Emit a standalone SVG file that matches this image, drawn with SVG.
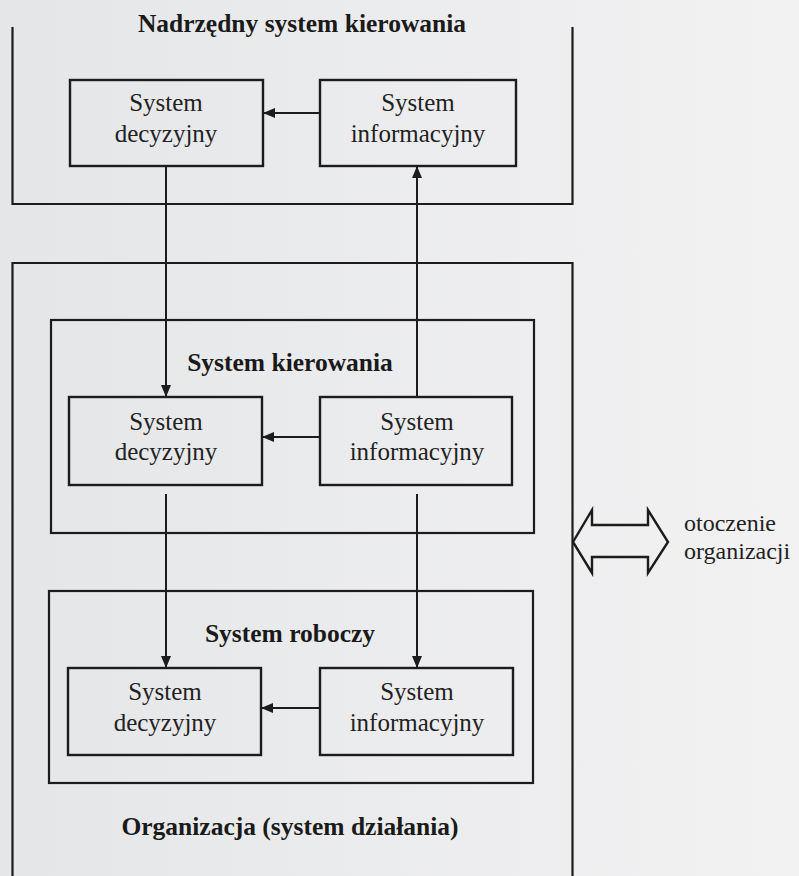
<svg xmlns="http://www.w3.org/2000/svg" width="799" height="876" viewBox="0 0 799 876">
  <defs>
    <linearGradient id="paper" x1="0" y1="0" x2="1" y2="0">
      <stop offset="0" stop-color="#e5e6e8"/>
      <stop offset="1" stop-color="#f2f2f3"/>
    </linearGradient>
    <marker id="arrow" viewBox="0 0 12 10" refX="12" refY="5" markerWidth="12" markerHeight="10" markerUnits="userSpaceOnUse" orient="auto">
      <path d="M0,0 L12,5 L0,10 Z" fill="#1c1c1c"/>
    </marker>
    <style>
      .frame { fill: none; stroke: #1c1c1c; stroke-width: 2.2; }
      .box { fill: none; stroke: #1c1c1c; stroke-width: 2.4; }
      .link { fill: none; stroke: #1c1c1c; stroke-width: 2; marker-end: url(#arrow); }
      .title { font-family: "Liberation Serif", "Times New Roman", serif; font-weight: bold; font-size: 25.5px; fill: #1a1a1a; text-anchor: middle; }
      .label { font-family: "Liberation Serif", "Times New Roman", serif; font-size: 25px; fill: #222; text-anchor: middle; }
      .side { font-family: "Liberation Serif", "Times New Roman", serif; font-size: 24px; fill: #222; }
    </style>
  </defs>

  <rect x="0" y="0" width="799" height="876" fill="url(#paper)"/>

  <!-- enclosing system frames -->
  <g id="nadrzedny-system">
    <path class="frame" d="M12.5,27 V204 H572.5 V27"/>
    <text class="title" x="302" y="32">Nadrzędny system kierowania</text>
  </g>
  <g id="organizacja">
    <path class="frame" d="M12.5,876 V263 H572.5 V876"/>
    <text class="title" x="290" y="835">Organizacja (system działania)</text>
  </g>
  <g id="system-kierowania">
    <rect class="frame" x="51" y="320" width="483" height="213"/>
    <text class="title" x="290" y="371">System kierowania</text>
  </g>
  <g id="system-roboczy">
    <rect class="frame" x="49" y="591" width="484" height="192"/>
    <text class="title" x="290" y="642">System roboczy</text>
  </g>

  <!-- upper level -->
  <g id="top-decyzyjny">
    <rect class="box" x="70" y="80" width="193" height="86"/>
    <text class="label" x="166" y="111">System</text>
    <text class="label" x="166" y="142">decyzyjny</text>
  </g>
  <g id="top-informacyjny">
    <rect class="box" x="320" y="80" width="196" height="86"/>
    <text class="label" x="418" y="111">System</text>
    <text class="label" x="418" y="142">informacyjny</text>
  </g>

  <!-- management level -->
  <g id="mid-decyzyjny">
    <rect class="box" x="69" y="397" width="193" height="88"/>
    <text class="label" x="166" y="430">System</text>
    <text class="label" x="166" y="460">decyzyjny</text>
  </g>
  <g id="mid-informacyjny">
    <rect class="box" x="320" y="397" width="192" height="88"/>
    <text class="label" x="417" y="430">System</text>
    <text class="label" x="417" y="460">informacyjny</text>
  </g>

  <!-- operating level -->
  <g id="bot-decyzyjny">
    <rect class="box" x="68" y="668" width="193" height="87"/>
    <text class="label" x="165" y="700">System</text>
    <text class="label" x="165" y="731">decyzyjny</text>
  </g>
  <g id="bot-informacyjny">
    <rect class="box" x="320" y="668" width="193" height="87"/>
    <text class="label" x="417" y="700">System</text>
    <text class="label" x="417" y="731">informacyjny</text>
  </g>

  <!-- environment exchange -->
  <g id="otoczenie">
    <polygon class="box" fill="#f0f0f1" points="573,542 592,510 592,525 648,525 648,510 668,542 648,573 648,557 592,557 592,573"/>
    <text class="side" x="684" y="531">otoczenie</text>
    <text class="side" x="684" y="559">organizacji</text>
  </g>

  <g id="connectors">
    <line class="link" x1="320" y1="113" x2="263" y2="113"/>
    <line class="link" x1="166" y1="166" x2="166" y2="397"/>
    <line class="link" x1="417" y1="397" x2="417" y2="166"/>
    <line class="link" x1="320" y1="437" x2="262" y2="437"/>
    <line class="link" x1="166" y1="494" x2="166" y2="668"/>
    <line class="link" x1="417" y1="494" x2="417" y2="668"/>
    <line class="link" x1="320" y1="708" x2="261" y2="708"/>
  </g>
</svg>
